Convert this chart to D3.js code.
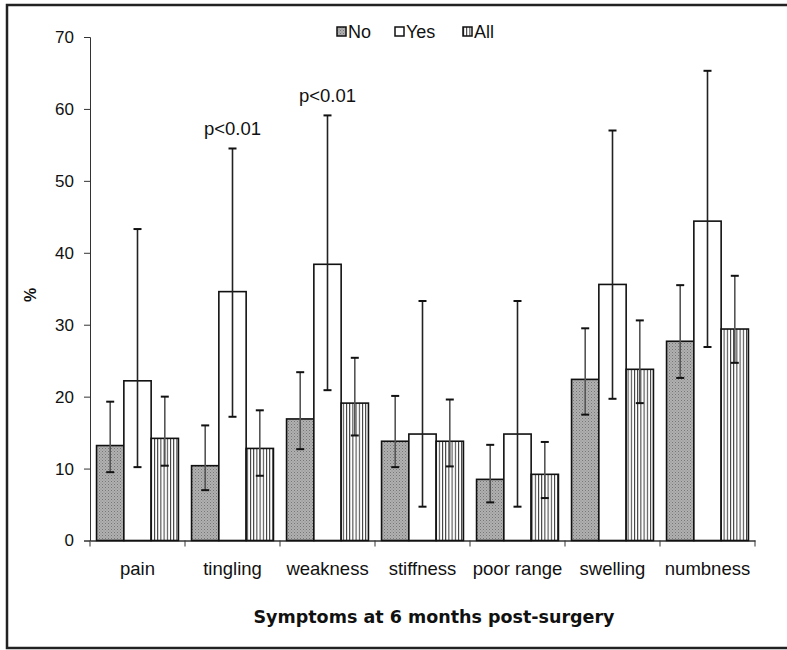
<!DOCTYPE html>
<html>
<head>
<meta charset="utf-8">
<script src="https://cdn.jsdelivr.net/npm/d3@7"></script>
<style>
	body { margin: 0; background: #fff; }
	text { font-family: "Liberation Sans", Arial, sans-serif; fill: #111; }
</style>
</head>
<body>
<div class="visualisation"></div>
<script>
//DATA
var categories = ["pain", "tingling", "weakness", "stiffness", "poor range", "swelling", "numbness"];
var series = ["No", "Yes", "All"];

var noValues  = [13.2, 10.4, 16.9, 13.8, 8.5, 22.4, 27.7];
var noLow     = [9.5, 7.0, 12.7, 10.2, 5.3, 17.5, 22.6];
var noHigh    = [19.3, 16.0, 23.4, 20.1, 13.3, 29.5, 35.5];

var yesValues = [22.2, 34.6, 38.4, 14.8, 14.8, 35.6, 44.4];
var yesLow    = [10.2, 17.2, 20.9, 4.7, 4.7, 19.7, 26.9];
var yesHigh   = [43.3, 54.5, 59.1, 33.3, 33.3, 57.0, 65.3];

var allValues = [14.2, 12.8, 19.1, 13.8, 9.2, 23.8, 29.4];
var allLow    = [10.4, 9.0, 14.6, 10.3, 5.9, 19.1, 24.7];
var allHigh   = [20.0, 18.1, 25.4, 19.6, 13.7, 30.6, 36.8];

var yTicks = [0, 10, 20, 30, 40, 50, 60, 70];
var notes = [{cat: "tingling", text: "p<0.01", at: 54.5}, {cat: "weakness", text: "p<0.01", at: 59.1}];

//----------------------------------------------------------------------------------------------------------------------------
//CANVAS
//----------------------------------------------------------------------------------------------------------------------------
var dim = {margin: {top: 37, right: 32, bottom: 110, left: 90}};
dim.width = 787 - dim.margin.left - dim.margin.right;
dim.height = 650 - dim.margin.top - dim.margin.bottom;

var root = d3.select(".visualisation").append("svg")
	.attr("width", 787)
	.attr("height", 650);

// outer frame (runs off the right edge as in the original)
root.append("rect")
	.attr("x", 7).attr("y", 5).attr("width", 800).attr("height", 643)
	.attr("fill", "none").attr("stroke", "#222").attr("stroke-width", 2.5);

var defs = root.append("defs");
var dots = defs.append("pattern").attr("id", "dots")
	.attr("patternUnits", "userSpaceOnUse").attr("width", 3).attr("height", 3);
dots.append("rect").attr("width", 3).attr("height", 3).attr("fill", "#b0b0b0");
dots.append("rect").attr("width", 1).attr("height", 1).attr("fill", "#767676");
dots.append("rect").attr("x", 1.5).attr("y", 1.5).attr("width", 1).attr("height", 1).attr("fill", "#888");

var stripes = defs.append("pattern").attr("id", "stripes")
	.attr("patternUnits", "userSpaceOnUse").attr("width", 3.2).attr("height", 4);
stripes.append("rect").attr("width", 3.2).attr("height", 4).attr("fill", "#fff");
stripes.append("rect").attr("width", 1).attr("height", 4).attr("fill", "#333");

var svg = root.append("g")
	.attr("transform", "translate(" + dim.margin.left + "," + dim.margin.top + ")");

//----------------------------------------------------------------------------------------------------------------------------
//SCALES + AXES
//----------------------------------------------------------------------------------------------------------------------------
var x0 = d3.scaleBand().domain(categories).range([0, 665]).paddingInner(0).paddingOuter(0);
var x1 = d3.scaleBand().domain(series).range([0, x0.bandwidth()]).paddingInner(0).paddingOuter(0.24);
var y = d3.scaleLinear().domain([0, 70]).range([dim.height + 0.5, 0]);

var yAxis = svg.append("g").attr("class", "y-axis")
	.call(d3.axisLeft(y).tickValues(yTicks).tickSize(6).tickPadding(10));
yAxis.select(".domain").attr("stroke", "#333");
yAxis.selectAll("line").attr("stroke", "#333");
yAxis.selectAll("text").style("font-size", "17px").attr("fill", "#222");

var xAxis = svg.append("g").attr("class", "x-axis")
	.attr("transform", "translate(0," + y(0) + ")")
	.call(d3.axisBottom(x0).tickSize(0).tickPadding(21));
xAxis.select(".domain").attr("stroke", "#333").attr("stroke-width", 1.3);
xAxis.selectAll("text").style("font-size", "18.5px").attr("fill", "#222");
// category boundary ticks
xAxis.selectAll(".bound").data(categories.concat(["end"])).enter().append("line")
	.attr("class", "bound")
	.attr("x1", function(d, i){ return i * x0.step(); })
	.attr("x2", function(d, i){ return i * x0.step(); })
	.attr("y1", 0).attr("y2", 6).attr("stroke", "#333");

//----------------------------------------------------------------------------------------------------------------------------
//BARS
//----------------------------------------------------------------------------------------------------------------------------
var rows = [];
categories.forEach(function(c, i){
	rows.push({cat: c, s: "No", v: noValues[i], lo: noLow[i], hi: noHigh[i], fill: "url(#dots)"});
	rows.push({cat: c, s: "Yes", v: yesValues[i], lo: yesLow[i], hi: yesHigh[i], fill: "#fff"});
	rows.push({cat: c, s: "All", v: allValues[i], lo: allLow[i], hi: allHigh[i], fill: "url(#stripes)"});
});

function cx(d){ return x0(d.cat) + x1(d.s) + x1.bandwidth() / 2; }

svg.selectAll(".bar").data(rows).enter().append("rect")
	.attr("class", "bar")
	.attr("x", function(d){ return x0(d.cat) + x1(d.s); })
	.attr("y", function(d){ return y(d.v); })
	.attr("width", x1.bandwidth())
	.attr("height", function(d){ return y(0) - y(d.v); })
	.attr("fill", function(d){ return d.fill; })
	.attr("stroke", "#111").attr("stroke-width", 1.6);

var err = svg.selectAll(".err").data(rows).enter().append("g").attr("class", "err");
err.append("line")
	.attr("x1", cx).attr("x2", cx)
	.attr("y1", function(d){ return y(d.lo); })
	.attr("y2", function(d){ return y(d.hi); })
	.attr("stroke", function(d){ return d.s == "Yes" ? "#222" : "#555"; }).attr("stroke-width", 1.6);
err.append("line")
	.attr("x1", function(d){ return cx(d) - 4; }).attr("x2", function(d){ return cx(d) + 4; })
	.attr("y1", function(d){ return y(d.hi); }).attr("y2", function(d){ return y(d.hi); })
	.attr("stroke", "#111").attr("stroke-width", 2);
err.append("line")
	.attr("x1", function(d){ return cx(d) - 4; }).attr("x2", function(d){ return cx(d) + 4; })
	.attr("y1", function(d){ return y(d.lo); }).attr("y2", function(d){ return y(d.lo); })
	.attr("stroke", "#111").attr("stroke-width", 2);

svg.selectAll(".note").data(notes).enter().append("text")
	.attr("class", "note")
	.attr("x", function(d){ return x0(d.cat) + x1("Yes") + x1.bandwidth() / 2; })
	.attr("y", function(d){ return y(d.at) - 13; })
	.attr("text-anchor", "middle")
	.style("font-size", "18.5px")
	.text(function(d){ return d.text; });

//----------------------------------------------------------------------------------------------------------------------------
//LEGEND + TITLES
//----------------------------------------------------------------------------------------------------------------------------
var legendX = [337, 395, 463];
var legendFill = ["url(#dots)", "#fff", "url(#stripes)"];
var legend = root.selectAll(".legend").data(series).enter().append("g")
	.attr("class", "legend")
	.attr("transform", function(d, i){ return "translate(" + legendX[i] + ",27)"; });
legend.append("rect").attr("width", 9).attr("height", 9)
	.attr("fill", function(d, i){ return legendFill[i]; })
	.attr("stroke", "#111").attr("stroke-width", 1.5);
legend.append("text").attr("x", 11).attr("y", 10.5)
	.style("font-size", "18px")
	.text(function(d){ return d; });

root.append("text")
	.attr("transform", "translate(36,295) rotate(-90)")
	.attr("text-anchor", "middle")
	.style("font-size", "16px").style("font-weight", "bold")
	.text("%");

root.append("text")
	.attr("x", 434).attr("y", 623)
	.attr("text-anchor", "middle")
	.style("font-family", "'DejaVu Sans', sans-serif")
	.style("font-size", "17.5px").style("font-weight", "bold")
	.text("Symptoms at 6 months post-surgery");
</script>
</body>
</html>
